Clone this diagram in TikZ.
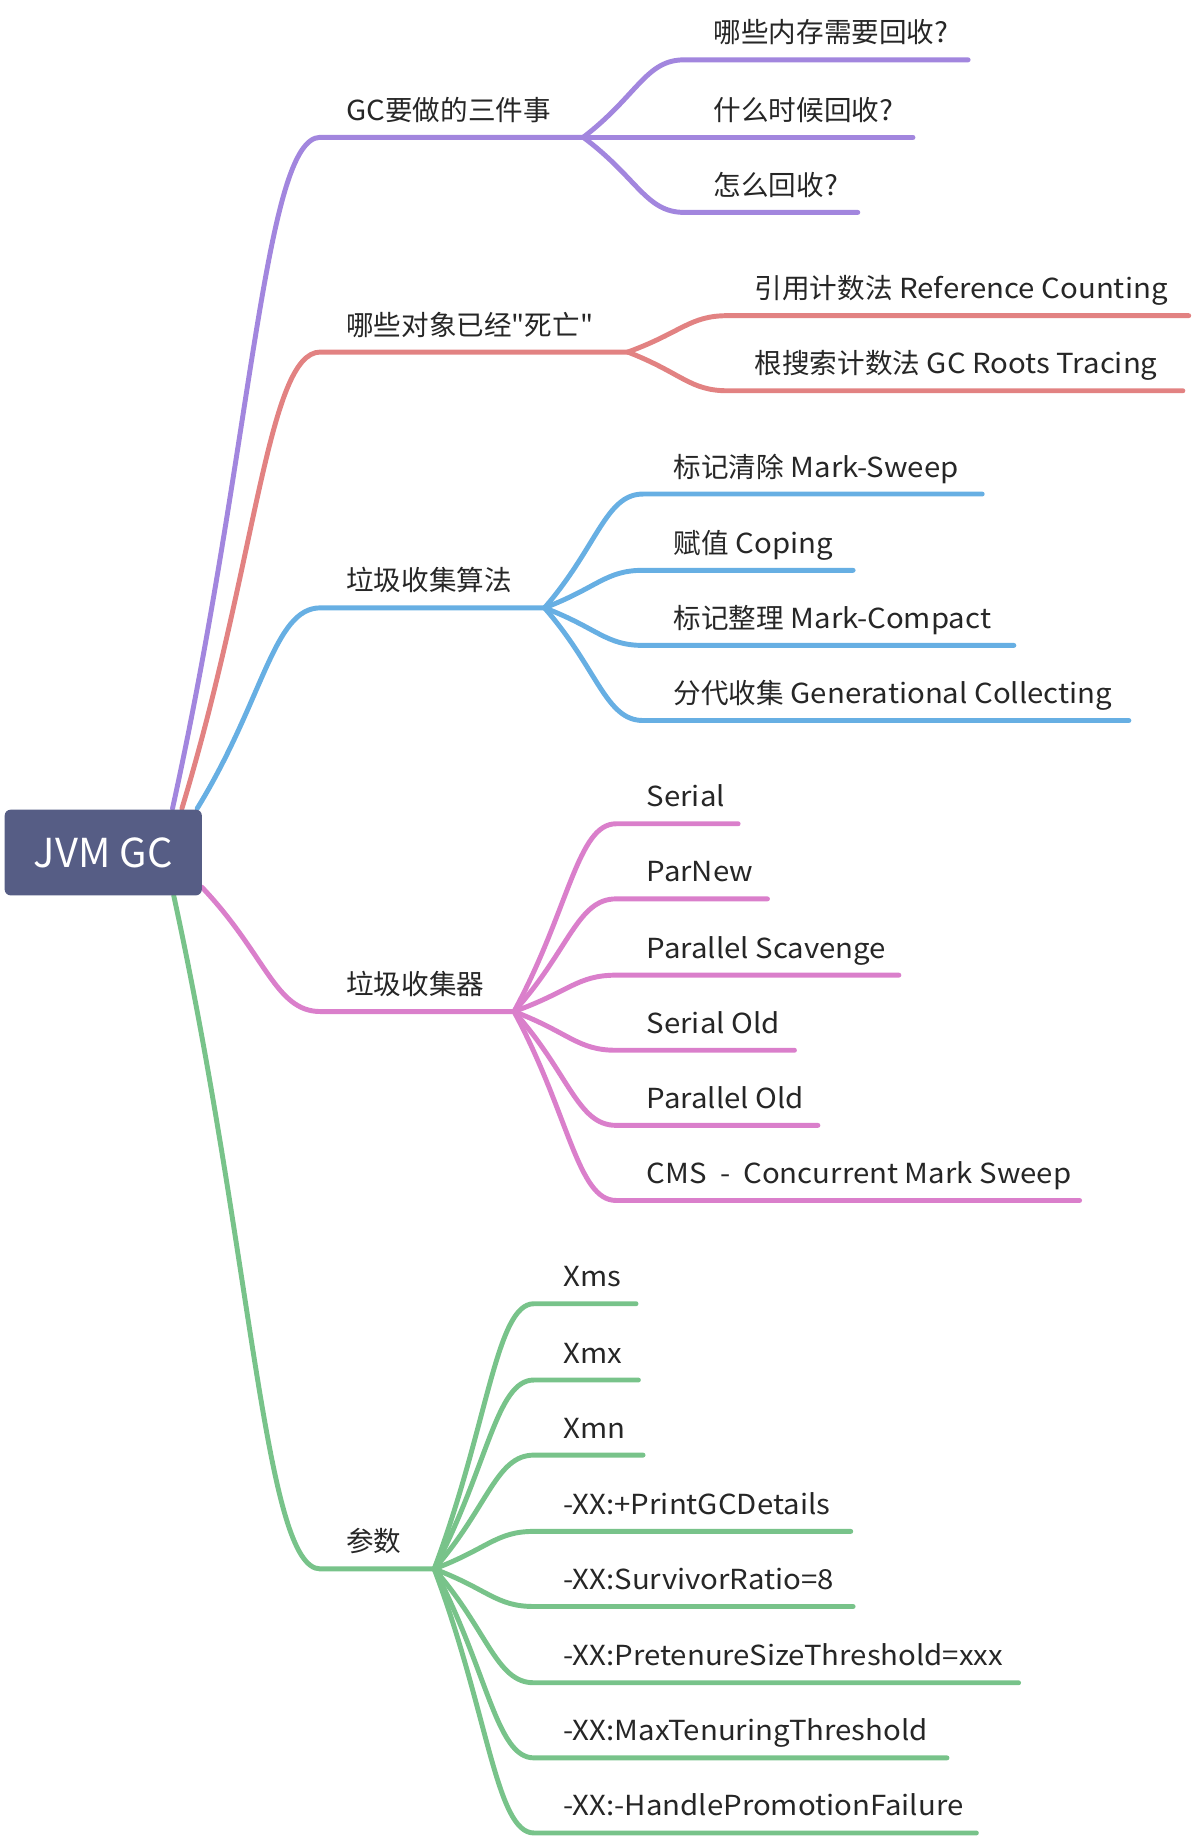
\documentclass[tikz,border=0pt]{standalone}
\usepackage{fontspec}
\setmainfont{Noto Sans CJK SC}[FakeStretch=1.065]
\newfontfamily\cjk{Noto Sans CJK SC}
\usetikzlibrary{calc}
\definecolor{cpurple}{RGB}{162,134,222}
\definecolor{cred}{RGB}{226,130,130}
\definecolor{cblue}{RGB}{103,175,227}
\definecolor{cpink}{RGB}{218,127,203}
\definecolor{cgreen}{RGB}{120,195,138}
\definecolor{rootfill}{RGB}{86,93,133}
\definecolor{textgray}{RGB}{38,38,38}
\tikzset{
  curvy/.style={to path={let \p1=(\tikztostart), \p2=(\tikztotarget) in
     .. controls ($(\p1)!0.54!(\p2)$) and ({\x1+0.62*(\x2-\x1)},\y2) .. (\p2)}},
  conn/.style={line width=4.2pt, line cap=round, draw=#1},
  lbl/.style={inner sep=0pt, anchor=base west, text=textgray,
     font=\fontsize{23.5}{28}\selectfont},
  rootbox/.style={fill=rootfill, rounded corners=5pt, minimum width=168pt,
     minimum height=73pt, inner sep=0pt, text=white,
     font=\cjk\fontsize{34}{40}\selectfont},
}
% name, colour, fork, y, x start, x end, text x, text
\newcommand\leaf[8]{%
  \coordinate (#1s) at (#5,#4);
  \coordinate (#1e) at (#6,#4);
  \node[lbl] (#1) at (#7,#4-14.5) {#8};
  \draw[conn=#2] (#3) to[curvy] (#1s) -- (#1e);
}
\begin{document}
\begin{tikzpicture}[x=1pt,y=-1pt]
\useasboundingbox (0,0) rectangle (1016,1568);
\coordinate (rP) at (147,689);
\coordinate (rR) at (155,689);
\coordinate (rB) at (168,689);
\coordinate (rK) at (172,756);
\coordinate (rG) at (148,763);

% GC要做的三件事
\leaf{L1}{cpurple}{rP}{117}{273}{497}{295}{GC{\cjk 要做的三件事}}
\leaf{A1}{cpurple}{L1e}{51}{583}{825}{608}{{\cjk 哪些内存需要回收}?}
\leaf{A2}{cpurple}{L1e}{117}{583}{778}{608}{{\cjk 什么时候回收}?}
\leaf{A3}{cpurple}{L1e}{181}{583}{731}{608}{{\cjk 怎么回收}?}

% 哪些对象已经"死亡"
\leaf{L2}{cred}{rR}{300}{273}{535}{295}{{\cjk 哪些对象已经"死亡"}}
\leaf{B1}{cred}{L2e}{269}{620}{1013}{643}{{\cjk 引用计数法} Reference Counting}
\leaf{B2}{cred}{L2e}{333}{620}{1008}{643}{{\cjk 根搜索计数法} GC Roots Tracing}

% 垃圾收集算法
\leaf{L3}{cblue}{rB}{518}{273}{464}{295}{{\cjk 垃圾收集算法}}
\leaf{C1}{cblue}{L3e}{421}{548}{837}{574}{{\cjk 标记清除} Mark-Sweep}
\leaf{C2}{cblue}{L3e}{486}{548}{727}{574}{{\cjk 赋值} Coping}
\leaf{C3}{cblue}{L3e}{550}{548}{864}{574}{{\cjk 标记整理} Mark-Compact}
\leaf{C4}{cblue}{L3e}{614}{548}{962}{574}{{\cjk 分代收集} Generational Collecting}

% 垃圾收集器
\leaf{L4}{cpink}{rK}{862}{273}{438}{295}{{\cjk 垃圾收集器}}
\leaf{D1}{cpink}{L4e}{702}{525}{629}{551}{Serial}
\leaf{D2}{cpink}{L4e}{766}{525}{654}{551}{ParNew}
\leaf{D3}{cpink}{L4e}{831}{525}{766}{551}{Parallel Scavenge}
\leaf{D4}{cpink}{L4e}{895}{525}{677}{551}{Serial Old}
\leaf{D5}{cpink}{L4e}{959}{525}{697}{551}{Parallel Old}
\leaf{D6}{cpink}{L4e}{1023}{525}{920}{551}{CMS\ \ -\ \ Concurrent Mark Sweep}

% 参数
\leaf{L5}{cgreen}{rG}{1337}{273}{370}{295}{{\cjk 参数}}
\leaf{E1}{cgreen}{L5e}{1111}{455}{542}{480}{Xms}
\leaf{E2}{cgreen}{L5e}{1176}{455}{544}{480}{Xmx}
\leaf{E3}{cgreen}{L5e}{1240}{455}{548}{480}{Xmn}
\leaf{E4}{cgreen}{L5e}{1305}{455}{725}{480}{-XX:+PrintGCDetails}
\leaf{E5}{cgreen}{L5e}{1369}{455}{727}{480}{-XX:SurvivorRatio=8}
\leaf{E6}{cgreen}{L5e}{1434}{455}{868}{480}{-XX:PretenureSizeThreshold=xxx}
\leaf{E7}{cgreen}{L5e}{1498}{455}{807}{480}{-XX:MaxTenuringThreshold}
\leaf{E8}{cgreen}{L5e}{1562}{455}{832}{480}{-XX:-HandlePromotionFailure}

\node[rootbox] (root) at (88,726.5) {JVM GC};
\end{tikzpicture}
\end{document}
